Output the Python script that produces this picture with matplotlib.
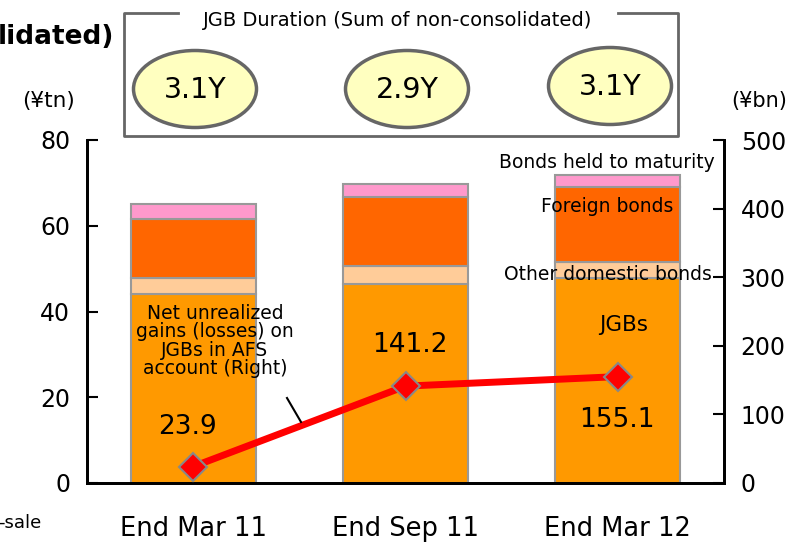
import matplotlib
matplotlib.use("Agg")
import matplotlib.pyplot as plt
from matplotlib.patches import Ellipse
import numpy as np

plt.rcParams['font.family'] = ['DejaVu Sans']

categories = ["End Mar 11", "End Sep 11", "End Mar 12"]
jgbs = [44.0, 46.3, 47.8]
other_domestic = [3.7, 4.2, 3.7]
foreign = [13.9, 16.3, 17.6]
held_to_maturity = [3.4, 2.9, 2.8]
unrealized = [23.9, 141.2, 155.1]
durations = ["3.1Y", "2.9Y", "3.1Y"]

W, H = 791, 543
fig = plt.figure(figsize=(W / 100, H / 100), dpi=100)
ax = fig.add_axes([87 / W, 1 - 483 / H, (724 - 87) / W, (483 - 140) / H])
ax2 = ax.twinx()

x = np.arange(len(categories))
bw = 0.59
edge = dict(edgecolor="#999999", linewidth=1.5)
b = np.zeros(3)
for vals, col in [(jgbs, "#FF9900"), (other_domestic, "#FFCC99"),
                  (foreign, "#FF6600"), (held_to_maturity, "#FF99CC")]:
    ax.bar(x, vals, bw, bottom=b, color=col, zorder=2, **edge)
    b = b + np.array(vals)

ax.set_xlim(-0.5, 2.5)
ax.set_ylim(0, 80)
ax.set_yticks([0, 20, 40, 60, 80])
ax2.set_ylim(0, 500)
ax2.set_yticks([0, 100, 200, 300, 400, 500])

ax2.plot(x, unrealized, color="#FF0000", linewidth=5, marker="D", markersize=14,
         markerfacecolor="#FF0000", markeredgecolor="#888888", markeredgewidth=1.5,
         zorder=5, solid_capstyle="butt")

for a in (ax, ax2):
    a.spines["top"].set_visible(False)
    for s in ("left", "right", "bottom"):
        a.spines[s].set_linewidth(2)
        a.spines[s].set_color("black")
    a.tick_params(axis="y", direction="in", length=8, width=1.5, labelsize=17, pad=12)
ax.tick_params(axis="x", length=0, labelsize=18.5, pad=24)
ax.set_xticks(x)
ax.set_xticklabels(categories)
ax2.set_zorder(ax.get_zorder() + 1)
ax2.patch.set_visible(False)

# value labels (placed in left-axis data units)
label_pos = [(-0.025, 13.0), (1.02, 32.2), (1.996, 14.6)]
for (lx, ly), v in zip(label_pos, unrealized):
    ax.text(lx, ly, f"{v}", ha="center", va="center", fontsize=19, zorder=6)

# annotation for line
fig.text(215 / W, 1 - 341 / H, "Net unrealized\ngains (losses) on\nJGBs in AFS\naccount (Right)",
         ha="center", va="center", fontsize=13.5, linespacing=0.95, zorder=6)
fig.add_artist(plt.Line2D([287 / W, 301 / W], [1 - 398 / H, 1 - 422 / H], color="black", lw=1.5))

# segment labels
fig.text(715 / W, 1 - 162 / H, "Bonds held to maturity", ha="right", va="center", fontsize=13.5)
fig.text(607 / W, 1 - 207 / H, "Foreign bonds", ha="center", va="center", fontsize=13.5)
fig.text(608 / W, 1 - 274 / H, "Other domestic bonds", ha="center", va="center", fontsize=13.5)
fig.text(624 / W, 1 - 325 / H, "JGBs", ha="center", va="center", fontsize=15.5)

# axis units
fig.text(48 / W, 1 - 101 / H, "(¥tn)", ha="center", va="center", fontsize=15.5)
fig.text(759 / W, 1 - 101 / H, "(¥bn)", ha="center", va="center", fontsize=15)
fig.text(-2 / W, 1 - 37 / H, "lidated)", ha="left", va="center", fontsize=19, fontweight="bold")
fig.text(-2 / W, 1 - 523 / H, "-sale", ha="left", va="center", fontsize=13)

# duration box
bx = fig.add_axes([0, 0, 1, 1], zorder=10)
bx.set_xlim(0, W)
bx.set_ylim(H, 0)
bx.axis("off")
bx.patch.set_visible(False)
gc = "#666666"
bx.plot([178, 124, 124, 678, 678, 618], [13, 13, 136, 136, 13, 13], color=gc, lw=2)
bx.text(398, 21, "JGB Duration (Sum of non-consolidated)", ha="center", va="center", fontsize=14)
for cx, cy, t in zip([195, 407, 610], [89, 89, 86], durations):
    bx.add_patch(Ellipse((cx, cy), 123, 77, facecolor="#FFFFC0", edgecolor=gc, lw=2.5))
    bx.text(cx, cy + 1, t, ha="center", va="center", fontsize=20.5)

fig.savefig("out.png", dpi=100)
